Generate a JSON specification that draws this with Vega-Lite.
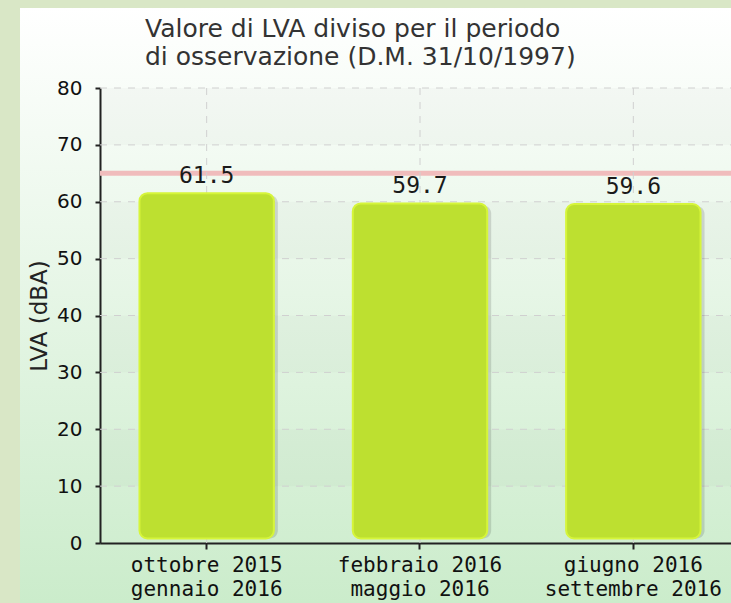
{
  "$schema": "https://vega.github.io/schema/vega-lite/v6.json",
  "autosize": "none",
  "width": 711,
  "height": 595,
  "padding": {"left": 20, "top": 8, "right": 0, "bottom": 0},
  "background": "#d9e7c6",
  "view": {
    "stroke": null,
    "fill": {"gradient": "linear", "x1": 0, "y1": 0, "x2": 0, "y2": 1,
      "stops": [{"offset": 0, "color": "#ffffff"}, {"offset": 1, "color": "#cbeccb"}]}
  },
  "title": {
    "text": ["Valore di LVA diviso per il periodo", "di osservazione (D.M. 31/10/1997)"],
    "font": "DejaVu Sans", "fontSize": 25, "fontWeight": "normal", "color": "#333333",
    "lineHeight": 28, "anchor": "start", "align": "left", "dx": 125, "dy": 57,
    "offset": -5, "frame": "group"
  },
  "datasets": {
    "bars": [
      {"periodo": "ottobre 2015 – gennaio 2016", "lva": 61.5},
      {"periodo": "febbraio 2016 – maggio 2016", "lva": 59.7},
      {"periodo": "giugno 2016 – settembre 2016", "lva": 59.6}
    ],
    "stripes": [
      {"lo": 10, "hi": 20}, {"lo": 30, "hi": 40}, {"lo": 50, "hi": 60}, {"lo": 70, "hi": 80}
    ],
    "griglia": [
      {"livello": 10}, {"livello": 20}, {"livello": 30}, {"livello": 40},
      {"livello": 50}, {"livello": 60}, {"livello": 70}, {"livello": 80}
    ],
    "limite": [{"soglia": 65}]
  },
  "resolve": {"scale": {"x": "independent"}, "axis": {"x": "independent"}},
  "layer": [
    {
      "layer": [
        {
          "data": {"name": "stripes"},
          "mark": {"type": "rect", "color": "#000000", "opacity": 0.018},
          "encoding": {
            "x": {"datum": 0, "type": "quantitative", "scale": {"domain": [0, 1], "range": [80, 711]}, "axis": null},
            "x2": {"datum": 1},
            "y": {"field": "lo", "type": "quantitative", "title": "LVA (dBA)", "scale": {"domain": [0, 80], "range": [535, 80], "nice": false}},
            "y2": {"field": "hi"}
          }
        },
        {
          "data": {"name": "griglia"},
          "mark": {"type": "rule", "color": "#d0d0d0", "strokeWidth": 1, "strokeDash": [7, 7]},
          "encoding": {
            "x": {"datum": 0, "type": "quantitative", "scale": {"domain": [0, 1], "range": [80, 711]}, "axis": null},
            "x2": {"datum": 1},
            "y": {"field": "livello", "type": "quantitative", "title": "LVA (dBA)"}
          }
        },
        {
          "data": {"name": "limite"},
          "mark": {"type": "rule", "color": "#f0bcbc", "strokeWidth": 5},
          "encoding": {
            "x": {"datum": 0, "type": "quantitative", "scale": {"domain": [0, 1], "range": [80, 711]}, "axis": null},
            "x2": {"datum": 1},
            "y": {"field": "soglia", "type": "quantitative", "title": "LVA (dBA)"}
          }
        }
      ]
    },
    {
      "data": {"name": "bars"},
      "encoding": {
        "x": {
          "field": "periodo", "type": "nominal", "sort": null,
          "scale": {"range": [80, 720], "paddingInner": 0.37, "paddingOuter": 0.185},
          "axis": {
            "title": null, "offset": -60, "bandPosition": 0.5,
            "labelExpr": "split(datum.label, ' – ')", "labelLimit": 0,
            "labelAngle": 0, "labelFont": "DejaVu Sans Mono", "labelFontSize": 21, "labelColor": "#111111",
            "labelLineHeight": 24.5, "labelBaseline": "top", "labelPadding": 5,
            "domainColor": "#222222", "domainWidth": 2, "tickColor": "#222222", "tickWidth": 2, "tickSize": 6,
            "grid": false
          }
        },
        "y": {
          "field": "lva", "type": "quantitative", "title": "LVA (dBA)",
          "scale": {"domain": [0, 80], "range": [535, 80], "nice": false},
          "axis": {
            "title": "LVA (dBA)", "titleFont": "DejaVu Sans", "titleFontSize": 23, "titleFontWeight": "normal",
            "titleColor": "#222222", "titlePadding": 5,
            "offset": -80,
            "values": [0, 5, 10, 15, 20, 25, 30, 35, 40, 45, 50, 55, 60, 65, 70, 75, 80],
            "labelExpr": "datum.value % 10 === 0 ? datum.label : ''",
            "labelFont": "DejaVu Sans", "labelFontSize": 20, "labelColor": "#111111", "labelPadding": 13,
            "domainColor": "#222222", "domainWidth": 2,
            "tickColor": {"condition": {"test": "datum.value % 10 !== 0", "value": "#ff2020"}, "value": "#222222"},
            "tickWidth": 2, "tickSize": 5,
            "grid": false
          }
        }
      },
      "layer": [
        {
          "mark": {"type": "rule", "color": "#d0d0d0", "strokeWidth": 1, "strokeDash": [7, 7]},
          "encoding": {"y": {"datum": 0, "type": "quantitative"}, "y2": {"datum": 80}}
        },
        {
          "mark": {"type": "bar", "color": "#000000", "opacity": 0.13, "cornerRadius": 8, "xOffset": 4, "yOffset": 2},
          "encoding": {"y2": {"datum": 0.8}}
        },
        {
          "mark": {"type": "bar", "color": "#bde030", "stroke": "#d6f53a", "strokeWidth": 2, "cornerRadius": 8},
          "encoding": {"y2": {"datum": 0.8}}
        },
        {
          "mark": {"type": "text", "font": "DejaVu Sans Mono", "fontSize": 23, "color": "#1a1a1a", "baseline": "alphabetic", "dy": -10},
          "encoding": {"text": {"field": "lva", "type": "quantitative", "format": ".1f"}}
        }
      ]
    }
  ]
}
